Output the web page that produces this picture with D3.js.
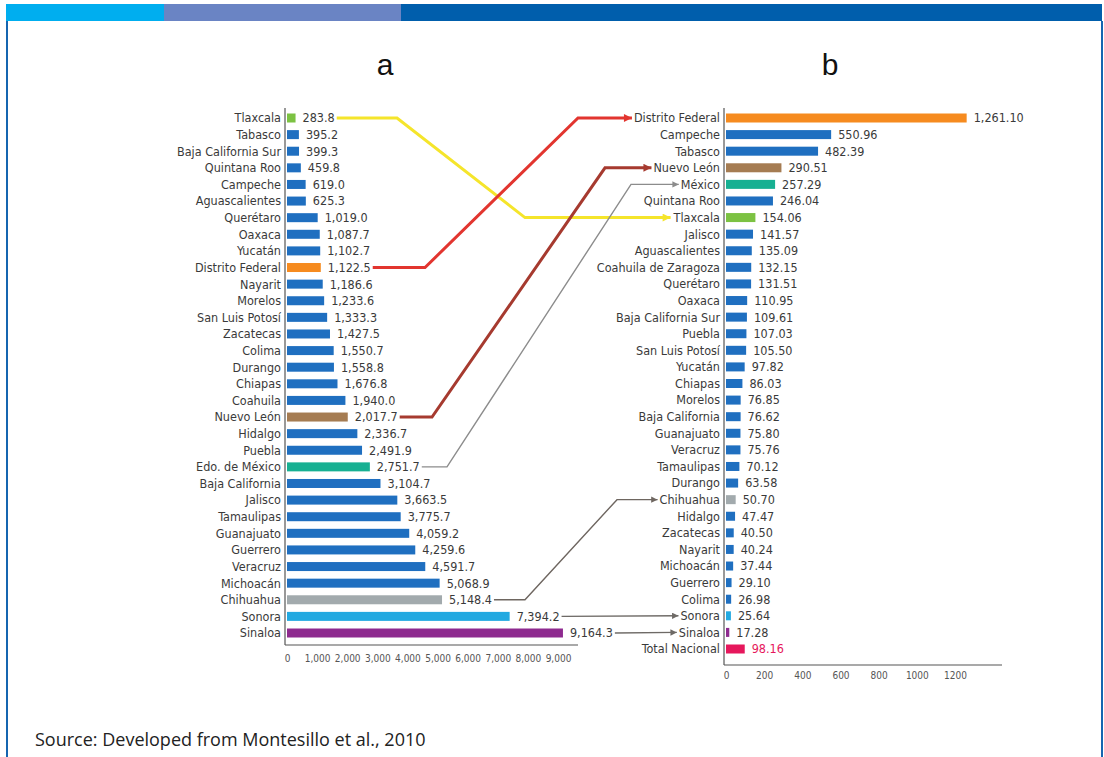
<!DOCTYPE html>
<html><head><meta charset="utf-8">
<script src="https://cdn.jsdelivr.net/npm/d3@7"></script>
<style>body{margin:0;background:#fff} svg{display:block}</style>
</head><body><svg id="c" width="1104" height="757"></svg>
<script>
// ---------- DATA ----------
const leftStates = ["Tlaxcala","Tabasco","Baja California Sur","Quintana Roo","Campeche","Aguascalientes","Querétaro","Oaxaca","Yucatán","Distrito Federal","Nayarit","Morelos","San Luis Potosí","Zacatecas","Colima","Durango","Chiapas","Coahuila","Nuevo León","Hidalgo","Puebla","Edo. de México","Baja California","Jalisco","Tamaulipas","Guanajuato","Guerrero","Veracruz","Michoacán","Chihuahua","Sonora","Sinaloa"];
const leftValues = [283.8,395.2,399.3,459.8,619.0,625.3,1019.0,1087.7,1102.7,1122.5,1186.6,1233.6,1333.3,1427.5,1550.7,1558.8,1676.8,1940.0,2017.7,2336.7,2491.9,2751.7,3104.7,3663.5,3775.7,4059.2,4259.6,4591.7,5068.9,5148.4,7394.2,9164.3];
const rightStates = ["Distrito Federal","Campeche","Tabasco","Nuevo León","México","Quintana Roo","Tlaxcala","Jalisco","Aguascalientes","Coahuila de Zaragoza","Querétaro","Oaxaca","Baja California Sur","Puebla","San Luis Potosí","Yucatán","Chiapas","Morelos","Baja California","Guanajuato","Veracruz","Tamaulipas","Durango","Chihuahua","Hidalgo","Zacatecas","Nayarit","Michoacán","Guerrero","Colima","Sonora","Sinaloa","Total Nacional"];
const rightValues = [1261.10,550.96,482.39,290.51,257.29,246.04,154.06,141.57,135.09,132.15,131.51,110.95,109.61,107.03,105.50,97.82,86.03,76.85,76.62,75.80,75.76,70.12,63.58,50.70,47.47,40.50,40.24,37.44,29.10,26.98,25.64,17.28,98.16];
const leftTicks = [0,1000,2000,3000,4000,5000,6000,7000,8000,9000];
const rightTicks = [0,200,400,600,800,1000,1200];
const panelTitles = ["a","b"];
const sourceText = "Source: Developed from Montesillo et al., 2010";
// links: [left state, right state]
const connectors = [["Tlaxcala","Tlaxcala"],["Distrito Federal","Distrito Federal"],["Nuevo León","Nuevo León"],["Edo. de México","México"],["Chihuahua","Chihuahua"],["Sonora","Sonora"],["Sinaloa","Sinaloa"]];

// ---------- STYLE ----------
const BLUE = "#1f6fc0";
const highlight = {
  "Tlaxcala":"#7cc242","Distrito Federal":"#f68b1f","Nuevo León":"#a57c52",
  "Edo. de México":"#17b092","México":"#17b092","Chihuahua":"#a2aaad",
  "Sonora":"#22a9e1","Sinaloa":"#8e2a8f","Total Nacional":"#e6175c"
};
const connStyle = [
  {color:"#f5e52b", w:3,   bend:[397,525], head:10},
  {color:"#e2352f", w:3,   bend:[425,578], head:10},
  {color:"#a63a2f", w:3,   bend:[432,605], head:10},
  {color:"#8c8c8c", w:1.4, bend:[447,631], head:8},
  {color:"#6e6660", w:1.4, bend:[525,617], head:8},
  {color:"#6e6a66", w:1.4, bend:null, head:8},
  {color:"#6e6a66", w:1.4, bend:null, head:8}
];
const FONT = "'Liberation Sans Narrow','DejaVu Sans Condensed','Liberation Sans',sans-serif";
const TXT = "#3a3a3a";

const svg = d3.select("#c");

// frame
svg.append("rect").attr("x",6).attr("y",4).attr("width",158).attr("height",17).attr("fill","#00aeef");
svg.append("rect").attr("x",164).attr("y",4).attr("width",237).attr("height",17).attr("fill","#6a84c4");
svg.append("rect").attr("x",401).attr("y",4).attr("width",701).attr("height",17).attr("fill","#005eac");
svg.append("line").attr("x1",7).attr("x2",7).attr("y1",21).attr("y2",757).attr("stroke","#1565b0").attr("stroke-width",2);
svg.append("line").attr("x1",1102).attr("x2",1102).attr("y1",21).attr("y2",757).attr("stroke","#1565b0").attr("stroke-width",2);

// titles
svg.append("text").attr("x",385).attr("y",75).attr("text-anchor","middle").attr("font-family","'Liberation Sans',sans-serif").attr("font-size",30).attr("fill","#111").text(panelTitles[0]);
svg.append("text").attr("x",830).attr("y",75).attr("text-anchor","middle").attr("font-family","'Liberation Sans',sans-serif").attr("font-size",30).attr("fill","#111").text(panelTitles[1]);

// source
svg.append("text").attr("x",35).attr("y",746).attr("font-family","'Open Sans',sans-serif").attr("font-size",18).attr("fill","#222").text(sourceText);

// ---------- SCALES ----------
const yL = d3.scalePoint().domain(leftStates).range([118,633]);
const yR = d3.scalePoint().domain(rightStates).range([118,649]);
const xL = d3.scaleLinear().domain([0,9000]).range([287,558]);
const xR = d3.scaleLinear().domain([0,1200]).range([726,955]);
const BH = 9;

function panel(states, values, y, x, axisX, axisY, axisEnd, ticks, fmt, tickFmt, tickY) {
  const g = svg.append("g");
  const data = states.map((s,i)=>({s, v:values[i]}));
  g.selectAll("rect.bar").data(data).join("rect").attr("class","bar")
    .attr("x", x(0)).attr("y", d=>y(d.s)-BH/2)
    .attr("width", d=>Math.max(1.5, x(d.v)-x(0))).attr("height", BH)
    .attr("fill", d=>highlight[d.s]||BLUE);
  const names = g.selectAll("text.name").data(data).join("text").attr("class","name")
    .attr("x", axisX-4).attr("y", d=>y(d.s)).attr("dy","0.35em").attr("text-anchor","end")
    .attr("font-family",FONT).attr("font-size",12.5).attr("fill",TXT).text(d=>d.s);
  const vals = g.selectAll("text.val").data(data).join("text").attr("class","val")
    .attr("x", d=>Math.max(x(0)+1.5, x(d.v))+7).attr("y", d=>y(d.s)).attr("dy","0.35em")
    .attr("font-family",FONT).attr("font-size",12.5)
    .attr("fill", d=>d.s==="Total Nacional"?"#e6175c":TXT).text(d=>fmt(d.v));
  // axes lines
  g.append("line").attr("x1",axisX).attr("x2",axisX).attr("y1",108).attr("y2",axisY).attr("stroke","#555").attr("stroke-width",1.2);
  g.append("line").attr("x1",axisX).attr("x2",axisEnd).attr("y1",axisY).attr("y2",axisY).attr("stroke","#555").attr("stroke-width",1.2);
  const ax = g.append("g").attr("transform",`translate(0,${tickY})`)
    .call(d3.axisBottom(x).tickValues(ticks).tickFormat(tickFmt).tickSize(0).tickPadding(0));
  ax.select(".domain").remove();
  ax.selectAll("text").attr("font-family",FONT).attr("font-size",10).attr("fill","#555");
  return {names, vals};
}

const L = panel(leftStates, leftValues, yL, xL, 285, 645, 578, leftTicks, d3.format(",.1f"), d3.format(","), 655);
const R = panel(rightStates, rightValues, yR, xR, 724, 665, 1002, rightTicks, d3.format(",.2f"), d3.format("d"), 672);

// ---------- CONNECTORS ----------
const defs = svg.append("defs");
connectors.forEach((c,i)=>{
  const st = connStyle[i];
  const id = "m"+i;
  defs.append("marker").attr("id",id).attr("markerUnits","userSpaceOnUse")
    .attr("viewBox","0 0 10 10").attr("refX",10).attr("refY",5)
    .attr("markerWidth",st.head).attr("markerHeight",st.head*0.8).attr("orient","auto")
    .append("path").attr("d","M0,0 L10,5 L0,10 Z").attr("fill",st.color);
  const vNode = L.vals.filter(d=>d.s===c[0]).node();
  const nNode = R.names.filter(d=>d.s===c[1]).node();
  const sx = vNode.getBBox().x + vNode.getBBox().width + 2;
  const tx = nNode.getBBox().x - 2;
  const y0 = yL(c[0]), y1 = yR(c[1]);
  const pts = st.bend ? [[sx,y0],[st.bend[0],y0],[st.bend[1],y1],[tx,y1]] : [[sx,y0],[tx,y1]];
  svg.append("path").attr("d", d3.line()(pts)).attr("fill","none")
    .attr("stroke",st.color).attr("stroke-width",st.w).attr("stroke-linejoin","miter")
    .attr("marker-end",`url(#${id})`);
});
</script></body></html>
